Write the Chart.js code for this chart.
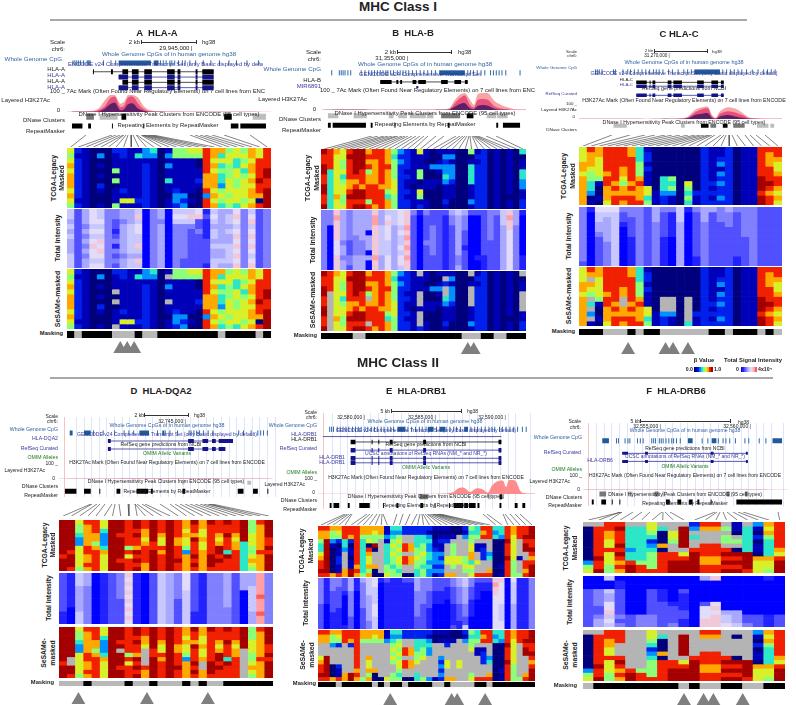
<!DOCTYPE html>
<html>
<head>
<meta charset="utf-8">
<title>MHC Class I and II</title>
<script src="https://cdn.jsdelivr.net/npm/chart.js@4/dist/chart.umd.min.js"></script>
<style>
html, body { margin: 0; padding: 0; background: #fff; }
#page { position: relative; width: 796px; height: 705px; overflow: hidden; font-family: "Liberation Sans", Arial, sans-serif; }
#page canvas { position: absolute; display: block; }
#page canvas.heat { filter: blur(0.45px); }
.t { position: absolute; white-space: pre; line-height: 1; color: #222; }
.rule { position: absolute; height: 2px; background: #a8a8a8; }
</style>
</head>
<body>
<div id="page"></div>
<script>
// heatmap columns, left to right. one string per column, one char per row block, top to bottom
// 0-9 = beta value or total intensity bin, x = masked (grey)
const tcgaA = ['656767776765','212222222212','111111111111','000000000000','030101021001','000000000000','211150501115','221111112161','111111111161','141111111121','331222222222','431111111111','000000000000','131311411011','551111112332','551111111323','651111111010','650011210000','888887778388','776767776767','746454435654','566555666565','664466556664','565645666656','776776767767','668888988708','888899889999'];
const totalA = ['554545444555','222222222222','444343434344','666565676656','556565767656','333333333333','332212313232','443444444344','444555555455','575665575475','000000000000','333333333333','443444444444','000000000000','565333333333','565333333322','575322222222','672232222222','121111222221','565455454455','444444454454','455454455554','676567676767','333333333333','567567676567','222222222222','333333333333'];
const sesameA = ['656767776765','212222222212','111111111111','000000000000','030101021001','000000000000','2111x0x0111x','221111112161','111111111161','141111111121','331222222222','431111111111','000000000000','1x1311x11011','551111112332','551111111323','651111111010','650011210000','888887778388','776767776767','746454435654','566555666565','664466556664','565645666656','776776767767','668888988708','888899889999'];
const maskA = [1,0,1,1,1,1,0,0,0,1,0,0,1,1,1,1,1,1,1,1,0,1,1,1,1,0,1];
const triA = [6,7,8];

const tcgaB = ['988998899889','888844444444','766666666766','665564566556','898888778988','999998789989','999988879989','787857788858','887777788887','888888878888','777877775477','545555666555','323222222222','222212112122','111111101111','611155016512','110100110011','000300110000','101310100000','132334311121','131333211100','000000000000','000000000000','501444411131','121222222222','222222222222','000000000000','111111111111','000000000000','111111111011','000000000000','401144331122'];
const totalB = ['333333333333','333000000000','787777666777','444444344344','333333222332','444443333444','444444333444','444404440400','788777777877','444555555444','567666555666','555444444444','666565565665','777878787877','322222222222','100000000000','322222322222','222333333222','222222222222','211111111111','433222222222','544444444334','433322212222','200000000000','200000000100','222222222111','333333222222','322222222222','555444444444','787766666666','444333333333','100000000111'];
const sesameB = ['988998899889','8888xxxxxxxx','766666666766','665564566556','898888778988','999998789989','999988879989','78785x7888x8','887777788887','888888878888','777877775477','545555666555','323222222222','222212112122','111111101111','x111xxx1xxx2','110100110011','000300110000','101310100000','1x2xx4311121','131333211100','000000000000','000000000000','x01xxxx11131','121222222222','222222222222','000000000000','111111111111','000000000000','111111111011','000000000000','x011xxxx1122'];
const maskB = [1,1,1,1,1,0,0,1,1,1,1,1,1,1,1,1,1,1,1,1,1,1,0,0,0,1,1,0,0,1,1,1];
const triB = [23,24];

const tcgaC = ['666776777777','877765544301','776666510010','888887887776','888888878788','888877657787','778888878788','444555787778','122121116645','000000000111','000000444322','000000545311','000000000000','000000065454','000000000211','222222222222','111111121212','112313232232','222222222222','000000000000','111111111111','111111111111','888888999899','877788898788','887667887676'];
const totalC = ['333333333332','100000000000','655443222222','654444433333','655555555555','322100000000','332222111111','333333333333','222222222222','444333333333','322222111111','311111000000','555444444444','100000000000','322222222211','444333333333','422222222222','333222222222','433322222222','322222222211','333333222222','333333333333','222222222222','222222222222','222222222222'];
const sesameC = ['666776777777','87x765x4x3x1','776666510010','888887887776','888888878788','888877xx7787','778888878788','444555787778','122121116645','000000000111','000000xxx322','000000xxx311','000000000000','000000xxxxx4','000000000211','222222222222','111111121212','112313232232','222222222222','000000000000','111111111111','111111111111','888888999899','877788898788','887667887676'];
const maskC = [1,1,1,0,0,0,1,0,1,1,0,0,0,0,0,0,1,1,0,1,1,1,0,1,0];
const triC = [5,10,11,13];

const tcgaD = ['999999998999','999999989998','655433666665','877777887787','888775788888','664333476666','999999999999','999899999899','888888586888','998988798989','887767888877','999998899999','888766878888','999999999999','888877888988','776766537777','988798889898','776676677777','988888889998','888767998988','988988849888','888767788888','999994444444','555666556765','877777787777','999988989999'];
const totalD = ['222222222111','111111110000','555444444555','444333333333','000000000000','111111111111','222222222222','333333222222','767676767676','111111111111','000000000000','222222222222','555555555555','444444444444','333333222222','666655555555','222222222111','111111111111','333333333333','333333333333','444444443333','222222222222','444400000000','444555555444','888889888988','333333333333'];
const sesameD = ['999999998999','9999999xx998','655433666665','877777887787','888775788888','664333476666','999999999999','99989x999899','888888586888','998988798989','88776xxxx877','999998899999','888766878888','999999999999','888877888988','776766537777','988798889898','77667667xx77','988888889998','888767998988','988988849888','888767788888','99999xxxxxxx','555666556765','877777787777','999988989999'];
const maskD = [0,0,0,1,0,0,0,0,1,0,0,1,0,0,0,1,0,1,0,0,1,1,1,1,1,1];
const triD = [1,10,18];

const tcgaE = ['877544678898','877999999998','755310000007','765201122118','888443xxxx77','887201101199','888888888787','775444444445','775608766757','765590xxx700','775xxxxxxxx0','113144444556','434565655455','435656566545','22xx88x88xx0','22xx77x77xx0','224445565544','224455655455','213433443433','100112333231','101211323232','1012xxx66xx7','001x555665x7','00xxxxx66xxx','213xxxx5565x','545566774656','445x11xx6xx8','878x1222xxx8','888xxx34xx78','434000000000','443000000101','888988898888','776666665555','888xxxx1xxx5','889899xx8878','999889878999'];
const totalE = ['333333222222','111111000000','333222221111','332222211111','222100000001','444333333222','111000000000','433333322222','555544444433','665555666555','100000000000','211111111111','111111111111','111111111111','211111111111','211111111111','444333333222','333333222222','333222211111','222111000000','222111000000','221110000000','332222111112','443333222211','554444333225','332221111000','211110000000','211000000000','211000000000','787766666666','766666555566','000000000000','655555444444','111111111111','111111111111','333333333333'];
const sesameE = ['877xxx678898','877xxx999998','7553xxxx0007','7652xxxx2118','888xxxxxxx77','8872xxxxxx99','888888888787','775xxxxxxxx5','775xxx766757','765xxxxxx700','775xxxxxxxx0','113xxxxxxxx6','43456565xx55','435656566545','22xx88x88xx0','22xx77x77xx0','22444556xx44','2244556xxxx5','213433xxxxx3','100xxxxxxxx1','101xxx323232','1012xxx66xx7','001xxxxxxxx7','00xxxxx66xxx','213xxxxxxxxx','54556xxxxx56','445x11xxxxx8','878x1222xxx8','888xxx34xx78','434000000000','443000000101','888988898888','776666665555','888xxxxxxxx5','889899xxxx78','999889878999'];
const maskE = [1,1,1,0,1,1,1,1,1,0,1,0,1,1,0,1,1,1,1,0,0,1,0,0,0,0,1,1,0,1,1,1,1,1,1,1];
const triE = [11,22,23,28];

const tcgaF = ['x00000000356','x88888889889','887766866655','898889898787','x44444344899','x44444444588','665423455558','x40007088888','xx665xx88999','x99999x68999','23x4xx899999','87xxx8887788','87xxx8887788','x5x55x898989','110x5x098989','x44444499998','310201107666','767544447665','888888768999'];
const totalF = ['000222222222','000333322344','500544667565','011222222323','000000000222','000000000333','000222222333','000111222222','000000122223','000211112211','000000000000','400000266677','700000676777','000000004556','000000004445','000000000223','000000000222','100000000111','000000000222'];
const sesameF = ['x00000000356','x88888889889','887766866655','888xxx898787','xxxxxxxxx899','xxxxxxxxx588','665423455558','x40007088888','xxxxxxx88999','x99999x68999','xxxxxx899999','87xxx8887788','87xxx8887788','xxxxxx898989','x0xxxx098989','xxxxxxx99998','310201107666','767544447665','888888768999'];
const maskF = [0,1,1,1,1,1,1,1,1,0,1,0,0,1,1,0,0,1,1];
const triF = [9,11,12,15];

// browser tracks, positions along each browser window
const cpgA = [68,70,72,74,76,79,83,84,85,86,100,108,113,156,160,163,166,170,172,175,179,183,186,191,197,205,213,222,232,240,251,263];
const cpgBlocksA = [[116,150],[153,158]];
const exonsA = [[120,126],[130,137],[143,151],[167,175],[178,181],[197,199],[204,216]];
const dnaseDarkA = [[82,90]];
const dnaseLightA = [[96,115],[257,271]];
const dnaseBlackA = [[119,124],[227,235]];
const repeatA = [[67,78],[84,87],[109,110],[142,143],[234,242],[244,271]];
const fanA = [86,112,116,120,123,124,126,128,131,133,136,137,141,142,143,144,146,148,150,153,190,195,200,205,212,224,250];
const sigXA = [67,80,90,95,100,105,110,115,120,124,128,133,138,143,148,155,170,190,230,271];
const sigLightA = [1,3,5,10,30,70,100,100,50,60,100,100,85,40,15,6,3,2,2,1];
const sigMidA = [0,1,3,5,15,35,80,90,30,35,85,90,50,20,6,2,1,1,1,0];
const sigDarkA = [0,1,1,2,5,20,45,55,12,15,45,50,20,8,2,1,0,0,0,0];

const cpgB = [327,335,337,339,341,344,347,358,362,366,369,372,375,378,381,384,386,389,392,396,399,402,405,408,412,416,420,424,428,432,436,470,473,476,480,484,488,494,497,500,503,506,510,525];
const cpgBlocksB = [[440,467]];
const exonsB = [[378,390],[395,397],[399,401],[412,416],[418,426],[442,449],[456,463],[467,470]];
const mirB = [[416,418]];
const dnaseDarkB = [[442,462]];
const dnaseLightB = [[323,334],[350,364],[387,392],[397,406],[409,426],[427,434],[490,500],[501,512]];
const dnaseBlackB = [[469,476]];
const repeatB = [[323,326],[328,363],[368,370],[393,394],[449,451],[500,502],[507,525]];
const fanB = [372,378,384,388,392,396,398,402,405,408,412,416,420,424,428,436,444,456,460,463,465,467,469,470,472,473,474,475,476,478,486,496];
const sigXB = [321,340,380,430,445,450,455,460,465,470,474,478,483,488,495,505,515,526];
const sigLightB = [1,3,2,3,5,15,60,90,100,60,30,95,100,100,50,20,5,3];
const sigMidB = [0,2,1,1,2,8,40,70,85,30,15,60,65,60,20,5,2,1];
const sigDarkB = [0,1,0,0,1,3,20,35,40,10,5,25,30,25,6,1,0,0];

const cpgC = [591,593,595,598,610,612,620,625,628,632,636,640,644,648,652,655,658,662,668,672,678,684,688,692,725,729,733,737,741,745,750,756,762,768,772,776,780];
const cpgBlocksC = [[695,722]];
const exonsC = [[634,645],[648,649],[651,654],[667,671],[673,682],[698,705],[713,720],[723,726]];
const dnaseDarkC = [[712,718],[736,748]];
const dnaseLightC = [[610,624],[681,685],[761,773],[775,779]];
const dnaseBlackC = [[702,710],[725,730]];
const fanC = [612,630,645,655,665,672,680,688,695,700,704,708,710,712,715,721,724,726,729,732,737,745,750,756,765];
const sigXC = [579,620,660,680,688,695,702,708,712,716,720,728,735,742,750,782];
const sigLightC = [1,2,2,4,20,70,90,95,30,10,60,90,80,50,10,2];
const sigMidC = [1,1,1,2,12,50,75,80,20,5,40,60,50,30,5,1];
const sigDarkC = [0,0,0,1,5,30,40,45,8,2,20,30,20,10,2,0];

const cpgD = [90,100,112,122,127,132,157,165,170,178,190,192,195,198,201,205,210,215,242,247,255,262,265,268,272];
const cpgBlocksD = [[65,68],[80,87],[138,148],[162,164]];
const exonsD = [[105,108],[189,195],[204,210],[214,218],[221,236]];
const refseqD = [[105,108],[189,195],[204,210],[214,218],[221,228]];
const dnaseLightD = [[183,185],[251,255]];
const repeatD = [[60,72],[80,87],[96,97],[114,118],[135,147],[150,152],[183,186],[241,247],[257,262],[272,273]];
const fanD = [91,92,97,100,105,112,115,119,128,135,135,137,142,145,160,170,175,180,185,190,195,200,204,208,209,212];
const sigXD = [59,80,100,130,170,200,240,273];
const sigLightD = [2,4,3,5,6,5,3,2];

const cpgE = [325,327,329,333,336,339,342,345,349,352,355,358,362,365,369,372,375,379,382,386,389,392,404,407,411,415,419,422,426,437,447,451,455,458,462,473,477,480,484,488,492,495,498,503,506,510,514,518,522,527,531];
const cpgBlocksE = [[396,404],[428,434],[440,446],[466,470]];
const exonsE = [[347,352],[369,370],[376,377],[388,391],[423,426],[502,505]];
const dnaseDarkE = [[419,428]];
const dnaseLightE = [[491,494]];
const dnaseBlackE = [[503,506]];
const repeatE = [[325,327],[329,335],[344,346],[356,367],[381,382],[395,397],[420,423],[435,436],[450,451],[455,465],[466,470],[471,478],[480,482],[503,505],[519,522],[527,530]];
const fanE = [345,347,349,351,352,367,370,373,377,380,382,383,397,403,410,417,420,422,423,425,427,428,430,432,433,435,437,438,440,483,487,503,505,510,515,520];
const sigXE = [318,440,452,458,464,470,476,482,488,492,497,503,506,509,513,516,522,535];
const sigLightE = [2,2,10,40,45,15,40,35,10,60,90,95,50,100,100,90,10,3];

const cpgF = [613,615,622,625,627,635,638,641,650,652,654,658,660,662,665,668,671,673,676,680,703,709,720,725,728,732,738,748,752,763,770];
const cpgBlocksF = [[598,605],[688,693],[713,718],[777,787]];
const exonsF = [[619,625],[643,646],[712,715],[749,751]];
const dnaseDarkF = [[595,602],[653,657],[729,732],[748,751]];
const dnaseLightF = [[625,630],[661,664]];
const repeatF = [[583,584],[587,589],[597,602],[608,609],[616,617],[665,669],[677,681],[689,693],[698,700],[712,713],[739,787]];
const fanF = [622,620,622,633,642,650,662,663,665,670,715,717,720,723,727,733,738,743,778];
const sigXF = [583,620,660,700,740,788];
const sigLightF = [2,3,4,3,4,2];

// legend bins
const betaBins = [0,1,2,3,4,5,6,7,8,9];
const intensityBins = [0,1,2,3,4,5,6,7,8,9];

const jetColors = ['#00007c','#0000b8','#0020ec','#0090ff','#2ce6c8','#8cff78','#d8f02a','#ffa800','#f02000','#a40000'];
const intensityColors = ['#0000ff','#2222ff','#5050ff','#8080ff','#a8a8ff','#c8c8ff','#e2dcf8','#f0c8d8','#ff9fa8','#ff5a5a'];
const maskedGrey = '#b4b4b4';
const signalColors = ['#5c2068','#e8507c','#f8a4a4'];

Chart.defaults.animation = false;
Chart.defaults.responsive = false;
Chart.defaults.devicePixelRatio = 1;
Chart.defaults.events = [];
Chart.defaults.plugins.legend.display = false;
Chart.defaults.plugins.tooltip.enabled = false;
Chart.defaults.layout.padding = 0;

const page = document.getElementById('page');

function addCanvas(left, top, width, height, cls) {
    const c = document.createElement('canvas');
    c.width = width;
    c.height = height;
    c.style.left = left + 'px';
    c.style.top = top + 'px';
    c.style.width = width + 'px';
    c.style.height = height + 'px';
    if (cls) c.className = cls;
    page.appendChild(c);
    return c.getContext('2d');
}

function label(text, x, y, size, o) {
    o = o || {};
    const d = document.createElement('div');
    d.className = 't';
    d.textContent = text;
    d.style.left = x + 'px';
    d.style.top = y + 'px';
    d.style.fontSize = size + 'px';
    if (o.color) d.style.color = o.color;
    if (o.bold) d.style.fontWeight = 'bold';
    const tx = o.align === 'right' ? '-100%' : o.align === 'left' ? '0' : '-50%';
    d.style.transform = `translate(${tx},-50%)` + (o.rot ? ' rotate(-90deg)' : '');
    page.appendChild(d);
}

function rule(x, y, width) {
    const d = document.createElement('div');
    d.className = 'rule';
    d.style.left = x + 'px';
    d.style.top = y + 'px';
    d.style.width = width + 'px';
    page.appendChild(d);
}

function cellColor(ch, palette) {
    return ch === 'x' ? maskedGrey : palette[+ch];
}

function gridChart(left, top, width, height, cols, palette, cls) {
    const rows = cols[0].length;
    const datasets = [];
    for (let r = 0; r < rows; r++) {
        datasets.push({
            data: cols.map(() => 1),
            backgroundColor: cols.map(c => cellColor(c[r], palette)),
            borderWidth: 0,
            barPercentage: 1,
            categoryPercentage: 1
        });
    }
    new Chart(addCanvas(left, top, width, height, cls), {
        type: 'bar',
        data: { labels: cols.map((c, i) => i), datasets },
        options: {
            scales: {
                x: { stacked: true, display: false },
                y: { stacked: true, display: false, reverse: true, min: 0, max: rows }
            }
        }
    });
}

function maskChart(left, top, width, height, mask) {
    new Chart(addCanvas(left, top, width, height), {
        type: 'bar',
        data: {
            labels: mask.map((m, i) => i),
            datasets: [{
                data: mask.map(() => 1),
                backgroundColor: mask.map(m => m ? '#000000' : '#b8b8b8'),
                borderWidth: 0,
                barPercentage: 1,
                categoryPercentage: 1
            }]
        },
        options: { scales: { x: { display: false }, y: { display: false, min: 0, max: 1 } } }
    });
}

function triangleChart(left, top, width, n, tris) {
    new Chart(addCanvas(left, top, width, 16), {
        type: 'scatter',
        data: {
            datasets: [{
                data: tris.map(i => ({ x: i + 0.5, y: 0.5 })),
                pointStyle: 'triangle',
                pointRadius: 8,
                pointBackgroundColor: '#7f7f7f',
                pointBorderWidth: 0,
                clip: false
            }]
        },
        options: { scales: { x: { display: false, min: 0, max: n }, y: { display: false, min: 0, max: 1 } } }
    });
}

function segments(ranges, y) {
    const pts = [];
    ranges.forEach(r => {
        pts.push({ x: r[0], y }, { x: r[1], y }, { x: NaN, y: NaN });
    });
    return pts;
}

function segDataset(ranges, y, color, thick) {
    return {
        data: segments(ranges, y),
        showLine: true,
        borderColor: color,
        borderWidth: thick,
        pointRadius: 0,
        spanGaps: false,
        borderCapStyle: 'butt'
    };
}

function trackChart(p) {
    const t = p.track;
    const datasets = [];
    datasets.push({
        data: p.cpg.map(x => ({ x, y: t.cpgY })),
        pointStyle: 'line',
        rotation: 90,
        pointRadius: 2.6,
        pointBorderWidth: 1,
        pointBorderColor: '#2f6aa8'
    });
    datasets.push(segDataset(p.cpgBlocks, t.cpgY, '#1f5a9a', 5));
    t.genes.forEach(g => {
        datasets.push(segDataset([g.line], g.y, g.color, 0.7));
        datasets.push(segDataset(g.exons, g.y, g.color, g.thick));
    });
    if (p.dnaseDark) datasets.push(segDataset(p.dnaseDark, t.dnaseY, '#777777', t.dnaseH));
    if (p.dnaseLight) datasets.push(segDataset(p.dnaseLight, t.dnaseY, '#bdbdbd', t.dnaseH));
    if (p.dnaseBlack) datasets.push(segDataset(p.dnaseBlack, t.dnaseY, '#000000', t.dnaseH));
    if (p.repeat) datasets.push(segDataset(p.repeat, t.repeatY, '#000000', t.repeatH));
    new Chart(addCanvas(p.left, t.top, p.trackW, t.height), {
        type: 'scatter',
        data: { datasets },
        options: {
            scales: {
                x: {
                    min: p.left,
                    max: p.left + p.trackW,
                    display: !!t.grid,
                    ticks: { display: false, stepSize: 8 },
                    border: { display: false },
                    grid: {
                        drawTicks: false,
                        color: c => (c.index === 0 ? '#f6c4c4' : '#dfe5fa'),
                        lineWidth: 1
                    }
                },
                y: { display: false, reverse: true, min: t.top, max: t.top + t.height }
            }
        }
    });
}

function signalChart(p) {
    const s = p.signal;
    const datasets = [];
    s.layers.forEach(l => {
        datasets.push({
            data: s.x.map((x, i) => ({ x, y: l.values[i] })),
            showLine: true,
            fill: 'origin',
            tension: 0.3,
            borderWidth: 0,
            pointRadius: 0,
            backgroundColor: l.color
        });
    });
    new Chart(addCanvas(p.left, s.top, p.trackW, s.height), {
        type: 'scatter',
        data: { datasets },
        options: {
            scales: {
                x: { display: false, min: p.left, max: p.left + p.trackW },
                y: { display: false, min: 0, max: 100 }
            }
        }
    });
}

function fanChart(p) {
    const pts = [];
    p.fan.forEach((x, i) => {
        pts.push({ x, y: 0 }, { x: p.left + (i + 0.5) * p.width / p.fan.length, y: 1 }, { x: NaN, y: NaN });
    });
    new Chart(addCanvas(p.left, p.fanBox[0], p.width, p.fanBox[1]), {
        type: 'scatter',
        data: {
            datasets: [{
                data: pts,
                showLine: true,
                borderColor: '#333333',
                borderWidth: 0.6,
                pointRadius: 0,
                spanGaps: false
            }]
        },
        options: {
            scales: {
                x: { display: false, min: p.left, max: p.left + p.width },
                y: { display: false, reverse: true, min: 0, max: 1 }
            }
        }
    });
}

const black = '#000000', navy = '#14148c';

const panels = [
    {
        left: 67, width: 204, trackW: 204, fanBox: [135, 12],
        heats: [[tcgaA, 148, 60, jetColors], [totalA, 209, 59, intensityColors], [sesameA, 269, 60, jetColors]],
        mask: maskA, maskBox: [331, 7], tris: triA, triTop: 341,
        cpg: cpgA, cpgBlocks: cpgBlocksA, fan: fanA,
        dnaseDark: dnaseDarkA, dnaseLight: dnaseLightA, dnaseBlack: dnaseBlackA, repeat: repeatA,
        track: {
            top: 50, height: 85, cpgY: 59, dnaseY: 120, dnaseH: 6, repeatY: 130.5, repeatH: 5,
            genes: [
                { y: 69, color: black, thick: 5, line: [89, 216], exons: [[89, 90], [108, 110]].concat(exonsA) },
                { y: 75, color: navy, thick: 5, line: [116, 216], exons: [[116, 126]].concat(exonsA.slice(1)) },
                { y: 81, color: black, thick: 5, line: [122, 216], exons: exonsA },
                { y: 87, color: navy, thick: 5, line: [116, 216], exons: [[116, 126]].concat(exonsA.slice(1)) }
            ]
        },
        signal: {
            top: 95, height: 17, x: sigXA,
            layers: [{ values: sigDarkA, color: signalColors[0] }, { values: sigMidA, color: signalColors[1] }, { values: sigLightA, color: signalColors[2] }]
        }
    },
    {
        left: 321, width: 205, trackW: 205, fanBox: [136, 13],
        heats: [[tcgaB, 149, 60, jetColors], [totalB, 210, 60, intensityColors], [sesameB, 271, 60, jetColors]],
        mask: maskB, maskBox: [333, 6], tris: triB, triTop: 342,
        cpg: cpgB, cpgBlocks: cpgBlocksB, fan: fanB,
        dnaseDark: dnaseDarkB, dnaseLight: dnaseLightB, dnaseBlack: dnaseBlackB, repeat: repeatB,
        track: {
            top: 60, height: 76, cpgY: 69, dnaseY: 118.5, dnaseH: 5, repeatY: 129.5, repeatH: 5,
            genes: [
                { y: 79.5, color: black, thick: 4, line: [378, 470], exons: exonsB },
                { y: 85.5, color: navy, thick: 2, line: [416, 418], exons: mirB }
            ]
        },
        signal: {
            top: 93, height: 17, x: sigXB,
            layers: [{ values: sigDarkB, color: signalColors[0] }, { values: sigMidB, color: signalColors[1] }, { values: sigLightB, color: signalColors[2] }]
        }
    },
    {
        left: 579, width: 203, trackW: 203, fanBox: [135, 11],
        heats: [[tcgaC, 147, 58, jetColors], [totalC, 207, 59, intensityColors], [sesameC, 267, 59, jetColors]],
        mask: maskC, maskBox: [329, 6], tris: triC, triTop: 342,
        cpg: cpgC, cpgBlocks: cpgBlocksC, fan: fanC,
        dnaseDark: dnaseDarkC, dnaseLight: dnaseLightC, dnaseBlack: dnaseBlackC,
        track: {
            top: 60, height: 75, cpgY: 68, dnaseY: 130, dnaseH: 4,
            genes: [
                { y: 80, color: black, thick: 3.5, line: [634, 726], exons: exonsC },
                { y: 84.5, color: navy, thick: 3.5, line: [634, 726], exons: exonsC },
                { y: 95, color: navy, thick: 3.5, line: [634, 726], exons: exonsC }
            ]
        },
        signal: {
            top: 106, height: 13, x: sigXC,
            layers: [{ values: sigDarkC, color: signalColors[0] }, { values: sigMidC, color: signalColors[1] }, { values: sigLightC, color: signalColors[2] }]
        }
    },
    {
        left: 59, width: 214, trackW: 221, fanBox: [504, 12],
        heats: [[tcgaD, 520, 51, jetColors], [totalD, 573, 51, intensityColors], [sesameD, 627, 51, jetColors]],
        mask: maskD, maskBox: [681, 5], tris: triD, triTop: 692,
        cpg: cpgD, cpgBlocks: cpgBlocksD, fan: fanD,
        dnaseLight: dnaseLightD, repeat: repeatD,
        track: {
            top: 412, height: 90, grid: true, cpgY: 430, dnaseY: 486, dnaseH: 4, repeatY: 495.5, repeatH: 5,
            genes: [
                { y: 439, color: navy, thick: 4, line: [105, 236], exons: exonsD },
                { y: 448, color: navy, thick: 4, line: [105, 228], exons: refseqD }
            ]
        },
        signal: { top: 465, height: 14, x: sigXD, layers: [{ values: sigLightD, color: '#d88aa0' }] }
    },
    {
        left: 318, width: 217, trackW: 217, fanBox: [514, 11],
        heats: [[tcgaE, 526, 51, jetColors], [totalE, 578, 51, intensityColors], [sesameE, 630, 51, jetColors]],
        mask: maskE, maskBox: [682, 5], tris: triE, triTop: 693,
        cpg: cpgE, cpgBlocks: cpgBlocksE, fan: fanE,
        dnaseDark: dnaseDarkE, dnaseLight: dnaseLightE, dnaseBlack: dnaseBlackE, repeat: repeatE,
        track: {
            top: 408, height: 106, grid: true, cpgY: 426, dnaseY: 500.5, dnaseH: 5, repeatY: 510, repeatH: 5,
            genes: [
                { y: 434, color: navy, thick: 1, line: [318, 505], exons: [] },
                { y: 440, color: black, thick: 4.5, line: [347, 505], exons: exonsE },
                { y: 449, color: navy, thick: 4.5, line: [347, 505], exons: exonsE },
                { y: 458, color: navy, thick: 4.5, line: [347, 505], exons: exonsE },
                { y: 463, color: navy, thick: 4.5, line: [347, 505], exons: exonsE }
            ]
        },
        signal: { top: 480, height: 14, x: sigXE, layers: [{ values: sigLightE, color: '#ff8c8c' }] }
    },
    {
        left: 583, width: 202, trackW: 205, fanBox: [512, 8],
        heats: [[tcgaF, 522, 51, jetColors], [totalF, 576, 51, intensityColors], [sesameF, 630, 51, jetColors]],
        mask: maskF, maskBox: [683, 6], tris: triF, triTop: 693,
        cpg: cpgF, cpgBlocks: cpgBlocksF, fan: fanF,
        dnaseDark: dnaseDarkF, dnaseLight: dnaseLightF, repeat: repeatF,
        track: {
            top: 418, height: 93, grid: true, cpgY: 438, dnaseY: 497.5, dnaseH: 5, repeatY: 506.5, repeatH: 5,
            genes: [
                { y: 452, color: navy, thick: 3, line: [619, 751], exons: exonsF },
                { y: 461, color: navy, thick: 3, line: [619, 751], exons: exonsF }
            ]
        },
        signal: { top: 477, height: 13, x: sigXF, layers: [{ values: sigLightF, color: '#d88aa0' }] }
    }
];

panels.forEach(p => {
    trackChart(p);
    signalChart(p);
    fanChart(p);
    p.heats.forEach(h => gridChart(p.left, h[1], p.width, h[2], h[0], h[3], 'heat'));
    maskChart(p.left, p.maskBox[0], p.width, p.maskBox[1], p.mask);
    triangleChart(p.left, p.triTop, p.width, p.mask.length, p.tris);
});

// scale bars are thin rules with end ticks
function scaleBar(x1, x2, y) {
    const d = document.createElement('div');
    d.style.cssText = `position:absolute;left:${x1}px;top:${y - 2}px;width:${x2 - x1}px;height:4px;border-left:1px solid #333;border-right:1px solid #333;box-sizing:border-box;`;
    const m = document.createElement('div');
    m.style.cssText = 'position:absolute;left:0;right:0;top:1.5px;height:1px;background:#333;';
    d.appendChild(m);
    page.appendChild(d);
}
scaleBar(141, 197, 42);
scaleBar(397, 452, 52);
scaleBar(654, 708, 51);
scaleBar(144, 189, 415);
scaleBar(391, 462, 411);
scaleBar(640, 731, 421);

// legend bars
gridChart(694, 367, 19, 5, betaBins.map(b => String(b)), jetColors);
gridChart(741, 367, 16, 5, intensityBins.map(b => String(b)), intensityColors);

// page titles
rule(50, 19, 697);
rule(50, 377, 723);
label('MHC Class I', 398, 7, 13.5, { bold: true });
label('MHC Class II', 398, 363, 13.5, { bold: true });

label('A  HLA-A', 157, 33, 9.5, { bold: true });
label('B  HLA-B', 413, 33, 9.5, { bold: true });
label('C HLA-C', 679, 34, 9.5, { bold: true });
label('D  HLA-DQA2', 161, 391, 9.5, { bold: true });
label('E  HLA-DRB1', 416, 391, 9.5, { bold: true });
label('F  HLA-DRB6', 676, 391, 9.5, { bold: true });

const R = { align: 'right' };
const cpgBlue = '#2f5f9f', genePurple = '#3a3a9e', omimGreen = '#1f7a1f';
const RB = { align: 'right', color: genePurple };
const RC = { align: 'right', color: cpgBlue };
const RG = { align: 'right', color: omimGreen };
const MB = { color: genePurple };
const LL = { align: 'left' };

// panel A track text
label('Scale', 65, 42, 6, R);
label('chr6:', 65, 48.5, 6, R);
label('2 kb', 140, 42, 6, R);
label('hg38', 202, 42, 6, LL);
label('29,945,000 |', 176, 48, 6);
label('Whole Genome CpGs of in human genome hg38', 169, 54, 6.2, { color: cpgBlue });
label('Whole Genome CpG', 62, 59, 6.2, RC);
label('ENCODE v24 Comprehensive Transcript Set (only Basic displayed by defa', 68, 65, 5.9, { align: 'left', color: genePurple });
label('HLA-A', 65, 69, 6, R);
label('HLA-A', 65, 75, 6, RB);
label('HLA-A', 65, 81, 6, R);
label('HLA-A', 65, 87, 6, RB);
label('100 _ 7Ac Mark (Often Found Near Regulatory Elements) on 7 cell lines from ENC', 50, 92, 5.9, LL);
label('Layered H3K27Ac', 50, 100, 6, R);
label('0', 60, 110, 6, R);
label('DNase I Hypersensitivity Peak Clusters from ENCODE (95 cell types)', 169, 115, 5.9);
label('DNase Clusters', 65, 120, 6, R);
label('Repeating Elements by RepeatMasker', 168, 126, 5.9);
label('RepeatMasker', 65, 131, 6, R);

// panel B track text
label('Scale', 321, 52, 6, R);
label('chr6:', 321, 59, 6, R);
label('2 kb', 396, 52, 6, R);
label('hg38', 458, 52, 6, LL);
label('31,355,000 |', 392, 58, 6);
label('Whole Genome CpGs of in human genome hg38', 425, 64, 6.2, { color: cpgBlue });
label('Whole Genome CpG', 321, 69, 6.2, RC);
label('GENCODE v24 Comprehensive Transcript Set', 420, 75, 5.9, MB);
label('HLA-B', 321, 79.5, 6, R);
label('MIR6891', 321, 85.5, 6, RB);
label('100 _ 7Ac Mark (Often Found Near Regulatory Elements) on 7 cell lines from ENC', 320, 91, 5.9, LL);
label('Layered H3K27Ac', 307, 99, 6, R);
label('0', 316, 109, 6, R);
label('DNase I Hypersensitivity Peak Clusters from ENCODE (95 cell types)', 425, 114, 5.9);
label('DNase Clusters', 321, 119, 6, R);
label('Repeating Elements by RepeatMasker', 425, 125, 5.9);
label('RepeatMasker', 321, 130, 6, R);

// panel C track text
label('Scale', 577, 51.5, 4.4, R);
label('chr6:', 577, 56, 4.4, R);
label('2 kb', 653, 51, 4.4, R);
label('hg38', 712, 52, 4.4, LL);
label('31,270,000 |', 657, 56, 4.6);
label('Whole Genome CpGs of in human genome hg38', 684, 62.5, 5.5, { color: cpgBlue });
label('Whole Genome CpG', 577, 68, 4.4, RC);
label('GENCODE v24 Comprehensive Transcript Set (only Basic displayed by default)', 684, 74, 5.3, MB);
label('HLA-C', 633, 80, 4.4, R);
label('HLA-C', 633, 84.5, 4.4, RB);
label('RefSeq gene predictions from NCBI', 684, 89, 5.3);
label('RefSeq Curated', 577, 94, 4.4, RB);
label('H3K27Ac Mark (Often Found Near Regulatory Elements) on 7 cell lines from ENCODE', 684, 101, 5.3);
label('100 _', 577, 104, 4.4, R);
label('Layered H3K27Ac', 577, 110, 4.4, R);
label('0', 575, 117, 4.4, R);
label('DNase I Hypersensitivity Peak Clusters from ENCODE (95 cell types)', 684, 123, 5.3);
label('DNase Clusters', 577, 130, 4.4, R);

// panel D track text
label('Scale', 58, 416, 5, R);
label('chr6:', 58, 421, 5, R);
label('2 kb', 144, 415, 5, R);
label('hg38', 194, 415, 5, LL);
label('32,745,000 |', 172, 421, 5);
label('Whole Genome CpGs of in human genome hg38', 167, 426, 5.3, { color: cpgBlue });
label('Whole Genome CpG', 58, 430, 5.2, RC);
label('GENCODE v24 Comprehensive Transcript Set (only Basic displayed by default)', 167, 435, 5.1, MB);
label('HLA-DQA2', 58, 439, 5.2, RB);
label('RefSeq gene predictions from NCBI', 161, 445, 5.1);
label('RefSeq Curated', 58, 449, 5.2, RB);
label('OMIM Allelic Variants', 167, 454, 5.1, { color: omimGreen });
label('OMIM Alleles', 58, 458, 5.2, RG);
label('100 _', 58, 463, 5, R);
label('H3K27Ac Mark (Often Found Near Regulatory Elements) on 7 cell lines from ENCODE', 167, 463, 5.1);
label('Layered H3K27Ac', 45, 470, 5, R);
label('0', 55, 478, 5, R);
label('DNase I Hypersensitivity Peak Clusters from ENCODE (95 cell types)', 166, 482, 5.1);
label('DNase Clusters', 58, 487, 5.2, R);
label('Repeating Elements by RepeatMasker', 167, 492, 5.1);
label('RepeatMasker', 58, 496, 5.2, R);

// panel E track text
label('Scale', 317, 412, 5, R);
label('chr6:', 317, 417, 5, R);
label('5 kb', 390, 411, 5, R);
label('hg38', 467, 411, 5, LL);
label('32,580,000 |', 351, 417, 5);
label('32,585,000 |', 422, 417, 5);
label('32,590,000 |', 492, 417, 5);
label('Whole Genome CpGs of in human genome hg38', 425, 422, 5.3, { color: cpgBlue });
label('Whole Genome CpG', 317, 426, 5.2, RC);
label('GENCODE v24 Comprehensive Transcript Set (only Basic displayed by default)', 426, 431, 5.1, MB);
label('HLA-DRB1', 317, 435, 5.2, RB);
label('HLA-DRB1', 317, 440, 5.2, R);
label('RefSeq gene predictions from NCBI', 426, 445, 5.1);
label('RefSeq Curated', 317, 449, 5.2, RB);
label('UCSC annotations of RefSeq RNAs (NM_* and NR_*)', 426, 454, 5.1, MB);
label('HLA-DRB1', 345, 458, 5.2, RB);
label('HLA-DRB1', 345, 463, 5.2, RB);
label('OMIM Allelic Variants', 426, 468, 5.1, { color: omimGreen });
label('OMIM Alleles', 317, 473, 5.2, RG);
label('100 _', 317, 478, 5, R);
label('H3K27Ac Mark (Often Found Near Regulatory Elements) on 7 cell lines from ENCODE', 426, 478, 5.1);
label('Layered H3K27Ac', 305, 484, 5, R);
label('0', 315, 492, 5, R);
label('DNase I Hypersensitivity Peak Clusters from ENCODE (95 cell types)', 426, 497, 5.1);
label('DNase Clusters', 317, 501, 5.2, R);
label('Repeating Elements by RepeatMasker', 426, 506, 5.1);
label('RepeatMasker', 317, 510, 5.2, R);

// panel F track text
label('Scale', 581, 421, 5, R);
label('chr6:', 581, 427, 5, R);
label('5 kb', 640, 421, 5, R);
label('hg38', 738, 422, 5, LL);
label('32,555,000 |', 647, 426, 5);
label('32,560,000 |', 737, 426, 5);
label('Whole Genome CpGs of in human genome hg38', 685, 431, 5.1, { color: cpgBlue });
label('Whole Genome CpG', 582, 438, 5.2, RC);
label('RefSeq gene predictions from NCBI', 685, 448, 5);
label('RefSeq Curated', 581, 453, 5.2, RB);
label('UCSC annotations of RefSeq RNAs (NM_* and NR_*)', 685, 456, 5, MB);
label('HLA-DRB6', 613, 461, 5.2, RB);
label('OMIM Allelic Variants', 685, 466, 5, { color: omimGreen });
label('OMIM Alleles', 582, 470, 5.2, RG);
label('100 _', 582, 475, 5, R);
label('H3K27Ac Mark (Often Found Near Regulatory Elements) on 7 cell lines from ENCODE', 685, 475, 5);
label('Layered H3K27Ac', 570, 481, 5, R);
label('0', 580, 489, 5, R);
label('DNase I Hypersensitivity Peak Clusters from ENCODE (95 cell types)', 685, 494, 5);
label('DNase Clusters', 582, 498, 5.2, R);
label('Repeating Elements by RepeatMasker', 685, 503, 5);
label('RepeatMasker', 582, 506, 5.2, R);

// heatmap row titles
const ROT = { bold: true, rot: true };
[
    ['TCGA-Legacy', 53, 178, 7], ['Masked', 61, 178, 7], ['Total Intensity', 57, 238, 7], ['SeSAMe-masked', 57, 299, 7],
    ['TCGA-Legacy', 307, 178, 7], ['Masked', 316, 178, 7], ['Total Intensity', 312, 240, 7], ['SeSAMe-masked', 312, 300, 7],
    ['TCGA-Legacy', 563, 176, 7], ['Masked', 572, 176, 7], ['Total Intensity', 568, 236, 7], ['SeSAMe-masked', 568, 296, 7],
    ['TCGA-Legacy', 45, 545, 6.8], ['Masked', 53, 545, 6.8], ['Total Intensity', 49, 598, 6.8], ['SeSAMe-', 44, 653, 6.8], ['masked', 53, 653, 6.8],
    ['TCGA-Legacy', 302, 551, 6.8], ['Masked', 311, 551, 6.8], ['Total Intensity', 306, 603, 6.8], ['SeSAMe-', 303, 655, 6.8], ['masked', 312, 655, 6.8],
    ['TCGA-Legacy', 566, 548, 6.8], ['Masked', 575, 548, 6.8], ['Total Intensity', 570, 602, 6.8], ['SeSAMe-', 566, 655, 6.8], ['masked', 575, 655, 6.8]
].forEach(r => label(r[0], r[1], r[2], r[3], ROT));

[[63, 334], [317, 336], [575, 332], [54, 683], [316, 684], [577, 686]].forEach(m => {
    label('Masking', m[0], m[1], 5.8, { align: 'right', bold: true });
});

// legend text
label('β Value', 704, 361, 5.8, { bold: true });
label('Total Signal Intensity', 753, 361, 5.8, { bold: true });
label('0.0', 693, 369.5, 5.2, { align: 'right', bold: true });
label('1.0', 714, 369.5, 5.2, { align: 'left', bold: true });
label('0', 739, 369.5, 5.2, { align: 'right', bold: true });
label('4x10\u2074', 758, 369.5, 5.2, { align: 'left', bold: true });
</script>
</body>
</html>
